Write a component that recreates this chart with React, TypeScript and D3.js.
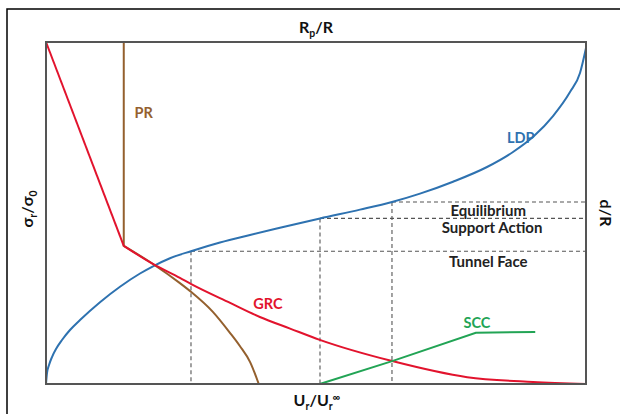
import React from 'react'
import * as d3 from 'd3'

const width = 620
const height = 414
const margin = { top: 42, right: 34, bottom: 30, left: 46 }

// longitudinal displacement profile (LDP)
const ldpX = [0, 0.19, 0.56, 1.11, 1.85, 2.96, 4.44, 6.3, 10.0, 13.7, 17.41, 19.81, 22.96, 26.85, 32.22, 37.78, 43.33, 50.74, 58.15, 64.07, 69.26, 75.37, 81.67, 86.48, 90.37, 93.89, 97.04, 98.89, 100]
const ldpY = [0, 3.22, 5.56, 7.89, 10.23, 12.87, 15.79, 18.71, 23.92, 28.45, 32.31, 34.42, 36.78, 38.83, 41.37, 43.57, 45.67, 48.42, 50.99, 53.22, 55.67, 59.15, 63.45, 67.84, 72.51, 78.36, 85.38, 90.94, 98.25]

// ground reaction curve (GRC): elastic part, then plastic part
const grcElasticX = [0, 14.4]
const grcElasticY = [100, 40.4]
const grcX = [14.4, 19.8, 24.8, 26.9, 34.1, 39.6, 45.2, 50.7, 64.1, 78.0, 90.2, 100]
const grcY = [40.4, 35.1, 31.0, 29.2, 23.7, 19.6, 16.2, 12.9, 6.7, 2.0, 0.6, 0]

// plastic radius (PR)
const prX = [14.4, 14.4, 19.8, 24.8, 26.9, 30.9, 34.1, 35.9, 37.8, 39.4]
const prY = [100, 40.4, 35.1, 29.5, 26.9, 21.1, 14.9, 11.1, 6.4, 0]

// support characteristic curve (SCC)
const sccX = [50.7, 64.1, 79.6, 90.6]
const sccY = [0, 6.7, 15.0, 15.2]

// guide points on the LDP: tunnel face, support action, equilibrium
const guideX = [26.85, 50.74, 64.07]
const guideY = [38.83, 48.42, 53.22]

const font = 'Lato, "Open Sans", sans-serif'

export default function App() {
  const innerW = width - margin.left - margin.right
  const innerH = height - margin.top - margin.bottom

  const x = d3.scaleLinear().domain([0, 100]).range([margin.left, margin.left + innerW])
  const y = d3.scaleLinear().domain([0, 100]).range([margin.top + innerH, margin.top])

  const zip = (xs: number[], ys: number[]) => xs.map((v, i) => [v, ys[i]] as [number, number])

  const smooth = d3.line<[number, number]>()
    .x(d => x(d[0]))
    .y(d => y(d[1]))
    .curve(d3.curveMonotoneX)

  const straight = d3.line<[number, number]>()
    .x(d => x(d[0]))
    .y(d => y(d[1]))

  const prPath = straight(zip(prX.slice(0, 2), prY.slice(0, 2))) + (smooth(zip(prX.slice(1), prY.slice(1))) || '').replace(/^M/, 'L')

  const curveLabel = { fontFamily: font, fontWeight: 700, fontSize: 14.5 }
  const stageLabel = { fontFamily: font, fontWeight: 700, fontSize: 15 }
  const axisStyle = { fontFamily: font, fontWeight: 700, fontSize: 16, fill: '#111' }

  return (
    <svg width={width} height={height} style={{ position: 'absolute', left: 0, top: 0, background: '#fff' }}>
      <rect x={7} y={9} width={width} height={height} fill="#fff" stroke="#000" strokeWidth={1.5} />

      {/* dashed guides */}
      {guideX.map((gx, i) => (
        <g key={i} stroke="#555" strokeWidth={1.1} strokeDasharray="4,3" fill="none">
          <line x1={x(gx)} x2={x(100)} y1={y(guideY[i])} y2={y(guideY[i])} />
          <line x1={x(gx)} x2={x(gx)} y1={y(guideY[i])} y2={y(0)} />
        </g>
      ))}

      <path d={smooth(zip(ldpX, ldpY)) || ''} fill="none" stroke="#2e72b0" strokeWidth={2} />
      <path d={prPath} fill="none" stroke="#94602e" strokeWidth={2} />
      <path d={straight(zip(grcElasticX, grcElasticY)) || ''} fill="none" stroke="#e2132d" strokeWidth={2} />
      <path d={smooth(zip(grcX, grcY)) || ''} fill="none" stroke="#e2132d" strokeWidth={2} />
      <path d={straight(zip(sccX, sccY)) || ''} fill="none" stroke="#22a455" strokeWidth={2} />

      <rect x={margin.left} y={margin.top} width={innerW} height={innerH} fill="none" stroke="#555" strokeWidth={2} />

      {/* curve labels */}
      <text x={x(18.1)} y={y(79.5)} textAnchor="middle" dominantBaseline="central" fill="#94602e" style={curveLabel}>PR</text>
      <text x={x(41.1)} y={y(23.4)} textAnchor="middle" dominantBaseline="central" fill="#e2132d" style={curveLabel}>GRC</text>
      <text x={x(87.9)} y={y(72.2)} textAnchor="middle" dominantBaseline="central" fill="#2e72b0" style={curveLabel}>LDP</text>
      <text x={x(79.8)} y={y(18.1)} textAnchor="middle" dominantBaseline="central" fill="#22a455" style={curveLabel}>SCC</text>

      {/* stage labels */}
      <text x={x(81.9)} y={y(channel(210))} textAnchor="middle" dominantBaseline="central" fill="#222" style={stageLabel}>Equilibrium</text>
      <text x={x(82.6)} y={y(channel(227))} textAnchor="middle" dominantBaseline="central" fill="#222" style={stageLabel}>Support Action</text>
      <text x={x(81.9)} y={y(channel(261))} textAnchor="middle" dominantBaseline="central" fill="#222" style={stageLabel}>Tunnel Face</text>

      {/* axis titles */}
      <text x={316} y={33} textAnchor="middle" style={axisStyle}>
        R<tspan fontSize={10.5} dy={4}>p</tspan><tspan dy={-4}>/R</tspan>
      </text>
      <text x={317} y={406} textAnchor="middle" style={axisStyle}>
        U<tspan fontSize={10.5} dy={4}>r</tspan><tspan dy={-4}>/U</tspan><tspan fontSize={10.5} dy={4}>r</tspan><tspan fontSize={10.5} dy={-9}>∞</tspan>
      </text>
      <text transform="translate(33,209) rotate(-90)" textAnchor="middle" style={axisStyle}>
        σ<tspan fontSize={10.5} dy={4}>r</tspan><tspan dy={-4}>/σ</tspan><tspan fontSize={10.5} dy={4}>0</tspan>
      </text>
      <text transform="translate(600,213) rotate(90)" textAnchor="middle" style={axisStyle}>d/R</text>
    </svg>
  )
}

// converts a pixel row of the reference into the chart's value units
function channel(py: number) {
  return ((384 - py) / 342) * 100
}
